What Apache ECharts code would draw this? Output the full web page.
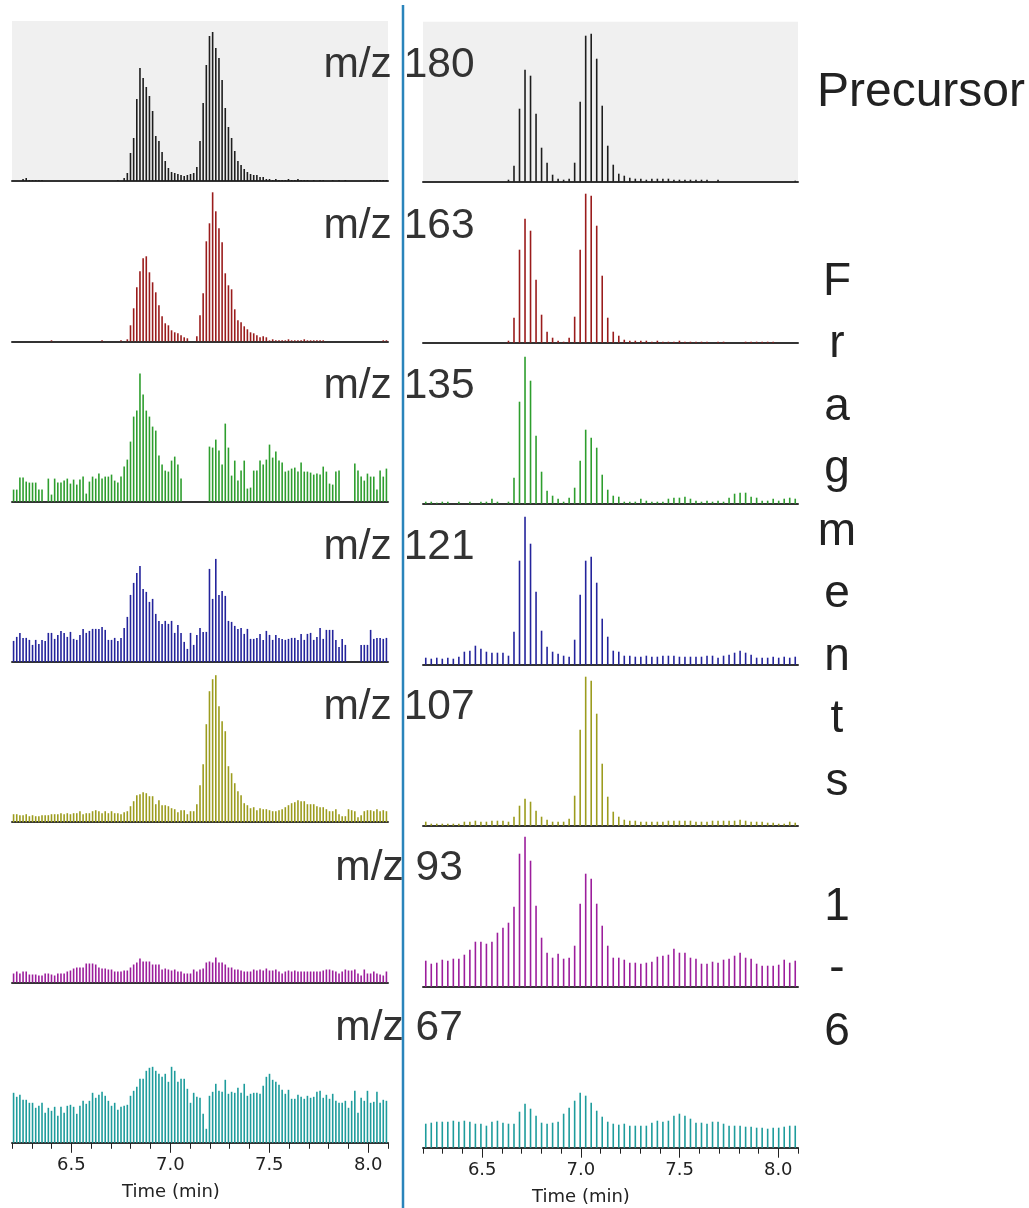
<!DOCTYPE html>
<html>
<head>
<meta charset="utf-8">
<script src="https://cdn.jsdelivr.net/npm/echarts@6.0.0/dist/echarts.min.js"></script>
<style>
html,body{margin:0;padding:0;background:#fff;}
#chart{width:1029px;height:1208px;}
</style>
</head>
<body>
<div id="chart"></div>
<script>
/* 提取离子色谱: 左右两栏, 每栏7行 (前体 + 6个碎片) */

// 标签
var mzLabels = ['m/z 180', 'm/z 163', 'm/z 135', 'm/z 121', 'm/z 107', 'm/z 93', 'm/z 67'];
var timeMin = 6.2, timeMax = 8.1;
var majorTicks = [6.5, 7.0, 7.5, 8.0];
var minorTicks = [6.2, 6.3, 6.4, 6.5, 6.6, 6.7, 6.8, 6.9, 7.0, 7.1, 7.2, 7.3, 7.4, 7.5, 7.6, 7.7, 7.8, 7.9, 8.0, 8.1];

// 左栏 (119 scans), 强度为任意单位
var left180 = [0,0,0,2,3,1,1,1,1,1, 0,0,0,0,0,0,0,0,0,0, 0,0,0,0,0,0,0,0,0,0, 0,0,0,1,0,
  3,8,28,43,82,113,103,94,85,70, 45,40,29,20,13,9,8,7,6,5, 6,7,8,14,40,78,116,145,149,133,
  123,101,73,54,43,30,20,16,12,9, 7,6,6,4,4,2,2,1,2,1, 1,1,2,1,1,2,1,1,1,0,
  1,0,1,1,0,0,1,0,1,0, 1,0,0,0,0,0,0,0,1,1, 1,1,1,1];
var left163 = [0,0,0,0,0,0,0,0,0,0, 0,0,1,0,0,0,0,0,0,0, 0,0,0,0,0,0,0,0,1,0,
  0,0,0,0,1,0,2,16,33,54, 70,83,85,69,59,49,36,25,18,16, 11,9,8,6,4,3,0,0,5,26,
  48,100,118,149,130,113,99,68,56,52, 32,21,19,15,12,9,8,6,4,5, 4,1,2,1,1,1,1,2,1,1,
  1,1,2,1,1,1,1,1,1,0, 0,0,0,0,0,0,0,0,0,0, 0,0,0,0,0,0,0,1,1];
var left135 = [12,12,24,24,20,19,19,19,12,12, 0,23,7,23,19,19,21,23,18,22,
  17,22,25,8,20,25,23,28,23,25, 25,27,21,19,25,35,42,60,85,91,
  128,107,91,85,75,71,46,37,31,30, 41,45,37,23, 0,0,0,0,0,0,0,0,
  55,54,62,51,37,78,54,26,41,21, 31,41,13,14,31,31,41,37,42,57,
  44,50,41,39,30,31,33,34,30,39, 30,30,29,27,28,27,35,30,18,17, 30,31,
  0,0,0,0, 38,31,25,21,28,25,25,12,31,25,33];
var left121 = [21,25,29,24,24,22,17,22,18,22, 21,29,29,23,27,31,29,25,30,23,
  22,27,33,29,31,33,33,33,35,32, 22,22,24,21,24,34,45,67,79,89,
  96,73,70,60,63,48,41,38,41,38, 41,29,37,29,20,13,29,17,27,34, 30, 30,
  93,63,103,67,71,66,41,40,36,33, 34,28,33,23,23,24,28,22,31,27,
  22,27,24,23,22,23,24,24,22,28, 22,28,29,22,25,34,23,32,32,32, 22,15,23,17,
  0,0,0,0, 17,17,17,32,23,24,24,23,24];
var left107 = [8,8,7,7,8,6,7,6,6,7, 7,7,8,8,8,9,8,9,8,9, 9,11,8,9,9,11,12,11,9,11,
  9,11,9,9,8,10,11,16,21,27, 28,30,29,26,26,18,22,17,17,16, 14,13,10,12,12,8,11,11,18,37,
  58,98,131,143,147,116,101,91,56,49, 39,31,27,19,17,14,15,12,14,13, 13,12,11,11,12,13,15,17,19,20,
  22,21,21,18,18,18,16,15,15,13, 11,11,13,8,6,6,13,12,11,5, 7,11,12,12,11,13,11,12,11];
var left93 = [9,11,9,11,11,8,8,8,7,7, 9,9,8,7,9,9,9,11,12,14, 15,15,15,19,19,19,18,15,14,14,
  13,13,11,11,11,12,12,15,18,20, 24,21,21,21,18,18,18,13,14,13, 12,13,11,11,9,9,9,13,11,13,
  14,20,21,20,25,20,20,18,15,15, 13,13,12,11,11,11,13,12,13,12, 14,12,12,13,11,9,11,12,11,12,
  11,11,11,11,11,11,11,11,12,13, 13,12,11,9,11,13,12,12,13,9, 7,13,9,9,11,9,8,7,11];
var left67 = [50,46,48,43,43,40,40,35,37,40, 30,35,32,36,27,36,30,37,38,36, 29,37,42,39,42,50,45,48,51,47,
  42,37,40,33,36,37,38,47,52,56, 64,64,72,75,76,72,69,66,69,61, 76,72,61,64,64,54,40,50,46,45,
  29,14,47,51,59,52,51,63,49,51, 50,55,50,59,47,49,50,50,49,57, 66,69,63,61,58,53,49,53,44,44,
  48,46,44,47,45,46,51,52,45,48, 44,49,42,40,40,42,35,42,52,30, 45,42,52,40,41,51,40,43,42];

// 右栏 (68 scans)
var right180 = [0,0,0,0,0,0,0,0,0,0, 0,0,0,0,0,2,16,73,112,106, 68,34,19,7,3,2,3,19,80,
  146,148,123,76,36,17,8,6,4,3, 3,2,3,3,3,3,2,2,2,2, 2,2,2,0,2,0,0,0,0,0, 0,0,0,0,0,0,0,0,1];
var right163 = [0,0,0,0,0,0,0,0,0,0, 0,0,0,0,0,2,25,93,124,112, 63,28,11,5,2,1,5,26,93,
  149,147,117,67,25,11,7,3,2,2, 2,2,1,2,1,1,1,2,1,1, 1,1,1,0,1,1,0,0,0,1, 1,1,1,1,1,0,0,0,0];
var right135 = [2,2,1,2,2,0,2,0,2,0, 2,2,5,2,0,2,26,102,147,123, 68,32,13,8,5,2,6,16,43,
  74,66,56,29,14,8,7,2,2,2, 5,3,2,2,2,5,6,6,7,5, 3,2,3,2,3,2,6,10,11,11, 7,6,3,3,5,3,5,6,5];
var right121 = [7,6,7,6,7,6,8,13,14,19, 16,13,12,12,12,9,33,104,148,121, 73,34,18,13,11,9,8,25,70,
  104,108,82,46,28,14,13,9,9,8, 8,9,8,8,9,9,9,8,8,8, 8,8,9,9,7,9,10,12,14,12, 10,7,7,7,8,7,8,7,8];
var right107 = [4,2,2,2,2,2,2,4,4,5, 4,4,5,5,5,4,9,20,27,24, 15,9,6,4,4,4,7,30,96,
  149,145,112,62,29,14,9,6,5,5, 4,4,4,4,4,5,5,5,5,5, 4,4,4,5,5,5,5,5,6,5, 4,4,4,3,3,2,2,4,3];
var right93 = [26,23,24,27,26,28,28,32,37,45, 45,43,45,54,59,64,80,133,150,126, 81,49,34,29,33,28,29,41,83,
  113,108,83,61,41,29,29,27,24,24, 23,24,25,30,31,32,38,34,34,29, 28,23,23,25,24,27,28,31,34,29,
  28,23,21,21,21,22,27,24,26];
var right67 = [24,25,26,26,26,27,26,27,26,24, 24,22,26,27,25,24,24,36,44,39, 32,25,24,25,26,34,40,47,55,
  52,45,37,31,26,24,23,24,22,22, 22,22,25,27,26,27,32,34,32,29, 25,25,24,26,26,24,22,22,22,21,
  21,20,20,19,20,20,21,22,22];

var leftData = [left180, left163, left135, left121, left107, left93, left67];
var rightData = [right180, right163, right135, right121, right107, right93, right67];
var colors = ['#1e1e1e', '#9a1c1c', '#2e9e2e', '#24249c', '#9c9c1e', '#9c1e9c', '#1e9c9c'];

var chart = echarts.init(document.getElementById('chart'), null, {renderer: 'canvas'});

// 布局
var cols = [
  {left: 12, width: 376, base0: 181, step: 160.3, data: leftData, nameX: 171, nameY: 1192},
  {left: 423, width: 375, base0: 181.7, step: 161, data: rightData, nameX: 581, nameY: 1197}
];
var plotH = 160;

var grids = [], xAxes = [], yAxes = [], series = [];
cols.forEach(function (col) {
  for (var r = 0; r < 7; r++) {
    var base = col.base0 + col.step * r;
    var gi = grids.length;
    grids.push({
      left: col.left, width: col.width, top: base - plotH, height: plotH,
      show: r === 0, backgroundColor: '#f0f0f0', borderWidth: 0
    });
    var vals = col.data[r];
    var cats = vals.map(function (v, i) { return i; });
    var xi = xAxes.length;
    xAxes.push({
      type: 'category', gridIndex: gi, data: cats, position: 'bottom',
      axisLine: {show: true, onZero: false, lineStyle: {color: '#333', width: 2}},
      axisTick: {show: false}, axisLabel: {show: false}, splitLine: {show: false}
    });
    yAxes.push({type: 'value', gridIndex: gi, min: 0, max: plotH, show: false});
    series.push({
      type: 'bar', xAxisIndex: xi, yAxisIndex: gi, data: vals,
      barWidth: 1.6, itemStyle: {color: colors[r]}, silent: true
    });
    // 最下面一行加时间轴
    if (r === 6) {
      xAxes.push({
        type: 'value', gridIndex: gi, min: timeMin, max: timeMax, position: 'bottom',
        axisLine: {show: false}, splitLine: {show: false},
        axisTick: {show: true, length: 6, customValues: minorTicks, lineStyle: {color: '#222', width: 1}},
        axisLabel: {show: false}
      });
      xAxes.push({
        type: 'value', gridIndex: gi, min: timeMin, max: timeMax, position: 'bottom',
        axisLine: {show: false}, splitLine: {show: false},
        axisTick: {show: true, length: 10, customValues: majorTicks, lineStyle: {color: '#222', width: 1}},
        axisLabel: {
          show: true, customValues: majorTicks, margin: 14,
          fontSize: 18, fontFamily: 'DejaVu Sans', color: '#222',
          formatter: function (v) { return v.toFixed(1); }
        }
      });
    }
  }
});

// 文字与分隔线
var graphics = [];
var labelY = [65, 226, 386, 547, 707, 868, 1028];
for (var i = 0; i < mzLabels.length; i++) {
  graphics.push({
    type: 'text', x: 399, y: labelY[i], z: 10,
    style: {text: mzLabels[i], fontSize: 42.5, fontFamily: 'Liberation Sans', fill: '#333',
      align: 'center', verticalAlign: 'middle'}
  });
}
cols.forEach(function (col) {
  graphics.push({
    type: 'text', x: col.nameX, y: col.nameY,
    style: {text: 'Time (min)', fontSize: 18, fontFamily: 'DejaVu Sans', fill: '#222',
      align: 'center', verticalAlign: 'middle'}
  });
});
graphics.push({
  type: 'line', z: 5,
  shape: {x1: 403, y1: 5, x2: 403, y2: 1208},
  style: {stroke: '#2a84bb', lineWidth: 2.5}
});
graphics.push({
  type: 'text', x: 921, y: 93,
  style: {text: 'Precursor', fontSize: 48, fontFamily: 'Liberation Sans', fill: '#222',
    align: 'center', verticalAlign: 'middle'}
});
graphics.push({
  type: 'text', x: 837, y: 251,
  style: {text: 'F\nr\na\ng\nm\ne\nn\nt\ns\n\n1\n-\n6', fontSize: 46, lineHeight: 62.5,
    fontFamily: 'Liberation Sans', fill: '#222', align: 'center', verticalAlign: 'top'}
});

chart.setOption({
  animation: false,
  grid: grids,
  xAxis: xAxes,
  yAxis: yAxes,
  series: series,
  graphic: graphics
});
</script>
</body>
</html>
